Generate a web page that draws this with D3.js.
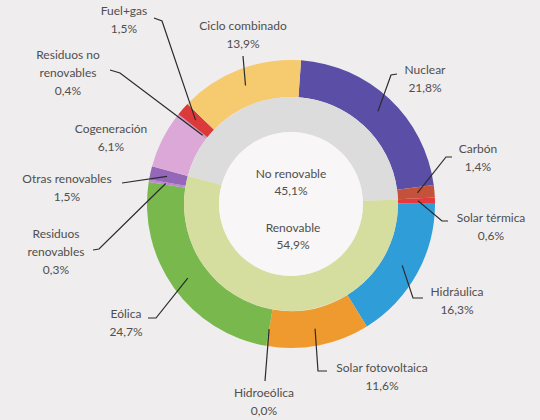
<!DOCTYPE html>
<html><head><meta charset="utf-8">
<script src="https://cdn.jsdelivr.net/npm/d3@7"></script>
<style>
html,body{margin:0;padding:0;background:#efeded;}
svg{display:block;}
</style></head>
<body>
<script>
// ---- data ----
const outerLabels = ["Nuclear","Carbón","Solar térmica","Hidráulica","Solar fotovoltaica","Hidroeólica","Eólica","Residuos renovables","Otras renovables","Cogeneración","Residuos no renovables","Fuel+gas","Ciclo combinado"];
const outerValues = [21.8,1.4,0.6,16.3,11.6,0.0,24.7,0.3,1.5,6.1,0.4,1.5,13.9];
const outerValueText = ["21,8%","1,4%","0,6%","16,3%","11,6%","0,0%","24,7%","0,3%","1,5%","6,1%","0,4%","1,5%","13,9%"];
const innerLabels = ["No renovable","Renovable"];
const innerValues = [45.1,54.9];
const innerValueText = ["45,1%","54,9%"];

// ---- styles ----
const outerColors = ["#5a4ea6","#c4523a","#e5393d","#2e9dd8","#ef9a2e","#3a7fc0","#79b84c","#b98ad0","#9467b8","#dba8d8","#c79ac8","#dc3a3a","#f6ca6e"];
const innerColors = ["#dddcdc","#d5dd9f"];

// ---- layout (label text lines, positions, leader elbows) ----
const labelLayout = [
  {lines:["Nuclear"], cx:425, y:69, p:[[397,74],[391,75]], r:127},
  {lines:["Carbón"], cx:478, y:148, p:[[452,157],[446,157]], r:127},
  {lines:["Solar térmica"], cx:491, y:217, p:[[448,221],[442,221]], r:127},
  {lines:["Hidráulica"], cx:457, y:291, p:[[423,298],[413,298]], r:127},
  {lines:["Solar fotovoltaica"], cx:382, y:367, p:[[327,371],[318,371]], r:127},
  {lines:["Hidroeólica"], cx:264, y:392, p:[[265,381]], r:127},
  {lines:["Eólica"], cx:126, y:313, p:[[148,318],[156,318]], r:127},
  {lines:["Residuos","renovables"], cx:56, y:233, p:[[93,250],[99,249]], r:127},
  {lines:["Otras renovables"], cx:67, y:178, p:[[122,183]], r:127},
  {lines:["Cogeneración"], cx:111, y:128, p:null, r:127},
  {lines:["Residuos no","renovables"], cx:68, y:54, p:[[110,70],[120,73]], r:112},
  {lines:["Fuel+gas"], cx:124, y:10, p:[[154,18],[162,21]], r:127},
  {lines:["Ciclo combinado"], cx:243, y:25, p:[[243,56]], r:127}
];

const W = 540, H = 420;
const cx = 291, cy = 204;
const R0 = 72, R1 = 107, R2 = 144;
const startOffset = 4 * Math.PI / 180;
const lineH = 18;

const svg = d3.select("body").append("svg").attr("width", W).attr("height", H);
svg.append("rect").attr("width", W).attr("height", H).attr("fill", "#efeded");
const g = svg.append("g").attr("transform", `translate(${cx},${cy})`);

// outer ring
const outerPie = d3.pie().sort(null).value(d => d)
  .startAngle(startOffset).endAngle(startOffset + 2 * Math.PI * d3.sum(outerValues) / 100);
const outerArcs = outerPie(outerValues);
const arcOuter = d3.arc().innerRadius(R1).outerRadius(R2);
g.selectAll("path.outer").data(outerArcs).join("path")
  .attr("class", "outer").attr("d", arcOuter)
  .attr("fill", (d, i) => outerColors[i]);

// inner ring: starts where "Cogeneración" begins
const innerStart = outerArcs[outerLabels.indexOf("Cogeneración")].startAngle;
const innerPie = d3.pie().sort(null).value(d => d)
  .startAngle(innerStart).endAngle(innerStart + 2 * Math.PI);
const arcInner = d3.arc().innerRadius(R0).outerRadius(R1);
g.selectAll("path.inner").data(innerPie(innerValues)).join("path")
  .attr("class", "inner").attr("d", arcInner)
  .attr("fill", (d, i) => innerColors[i]);

// center
g.append("circle").attr("r", R0).attr("fill", "#f8f6f6");

const font = "Lato, 'Open Sans', sans-serif";
const textCol = "#4f4f4f";

// leader lines + outer labels
labelLayout.forEach((L, i) => {
  const a = outerArcs[i];
  const mid = (a.startAngle + a.endAngle) / 2;
  const ex = cx + L.r * Math.sin(mid), ey = cy - L.r * Math.cos(mid);
  if (L.p) {
    const pts = L.p.concat([[ex, ey]]);
    svg.append("path").attr("d", d3.line()(pts))
      .attr("fill", "none").attr("stroke", "#2b2b2b").attr("stroke-width", 1.2);
  }
  const lines = L.lines.concat([outerValueText[i]]);
  lines.forEach((t, k) => {
    svg.append("text").attr("x", L.cx).attr("y", L.y + k * lineH)
      .attr("text-anchor", "middle").attr("dominant-baseline", "central")
      .attr("font-family", font).attr("font-size", 12).attr("fill", textCol)
      .text(t);
  });
});

// center labels
const centerPos = [{x:291, y:173}, {x:293, y:227}];
innerLabels.forEach((t, i) => {
  [t, innerValueText[i]].forEach((s, k) => {
    svg.append("text").attr("x", centerPos[i].x).attr("y", centerPos[i].y + k * 17)
      .attr("text-anchor", "middle").attr("dominant-baseline", "central")
      .attr("font-family", font).attr("font-size", 12).attr("fill", textCol)
      .text(s);
  });
});
</script>
</body></html>
